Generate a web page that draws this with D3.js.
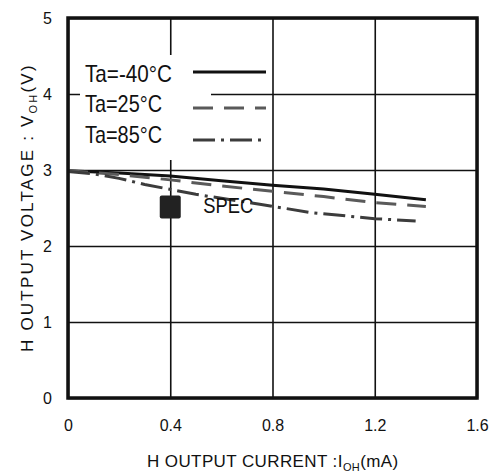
<!DOCTYPE html>
<html>
<head>
<meta charset="utf-8">
<script src="https://cdn.jsdelivr.net/npm/d3@7"></script>
<style>
    body { margin: 0; background: #fff; }
    text { font-family: "Liberation Sans", Arial, sans-serif; fill: #111; }
</style>
</head>
<body>
<div id="chart"></div>
<script>
// values
const currentTicks = [0, 0.4, 0.8, 1.2, 1.6];
const voltageTicks = [0, 1, 2, 3, 4, 5];
const currentTickLabels = ['0', '0.4', '0.8', '1.2', '1.6'];

const currentA = [0, 0.2, 0.4, 0.6, 0.8, 1.0, 1.2, 1.4];
const vohMinus40 = [2.99, 2.96, 2.92, 2.86, 2.80, 2.75, 2.68, 2.61];
const voh25 = [2.99, 2.94, 2.87, 2.79, 2.72, 2.65, 2.57, 2.52];
const currentB = [0, 0.1, 0.2, 0.3, 0.5, 0.75, 0.95, 1.2, 1.36];
const voh85 = [2.98, 2.95, 2.89, 2.81, 2.68, 2.55, 2.44, 2.36, 2.33];

const seriesLabels = ['Ta=-40°C', 'Ta=25°C', 'Ta=85°C'];
const specCurrent = [0.4];
const specVoltage = [2.52];

const margin = { top: 18, right: 15, bottom: 77, left: 68 };
const width = 492 - margin.left - margin.right;
const height = 475 - margin.top - margin.bottom;

const svg = d3.select('#chart').append('svg')
    .attr('width', 492)
    .attr('height', 475);

const chart = svg.append('g')
    .attr('transform', `translate(${margin.left}, ${margin.top})`);

const x = d3.scaleLinear().domain([0, 1.6]).range([0, width]);
const y = d3.scaleLinear().domain([0, 5]).range([height, 0]);

// grid
chart.append('g')
    .attr('transform', `translate(0, ${height})`)
    .call(d3.axisBottom(x).tickValues(currentTicks).tickSize(-height).tickFormat(''))
    .call(g => g.select('.domain').remove())
    .selectAll('line').attr('stroke', '#111').attr('stroke-width', 1.6);

chart.append('g')
    .call(d3.axisLeft(y).tickValues(voltageTicks).tickSize(-width).tickFormat(''))
    .call(g => g.select('.domain').remove())
    .selectAll('line').attr('stroke', '#111').attr('stroke-width', 1.6);

// white patch behind the legend text
chart.append('rect')
    .attr('x', 12).attr('y', 37)
    .attr('width', 131).attr('height', 105)
    .attr('fill', '#fff');

// tick labels
chart.append('g')
    .attr('transform', `translate(0, ${height})`)
    .call(d3.axisBottom(x).tickValues(currentTicks).tickSize(0).tickPadding(22)
        .tickFormat((d, i) => currentTickLabels[i]))
    .call(g => g.select('.domain').remove())
    .selectAll('text').attr('font-size', 16).attr('fill', '#111');

chart.append('g')
    .call(d3.axisLeft(y).tickValues(voltageTicks).tickSize(0).tickPadding(16)
        .tickFormat(d3.format('d')))
    .call(g => g.select('.domain').remove())
    .selectAll('text').attr('font-size', 16).attr('fill', '#111');

// curves
const series = [
    { xs: currentA, ys: vohMinus40, color: '#111', dash: null },
    { xs: currentA, ys: voh25, color: '#5a5a5a', dash: '20,11' },
    { xs: currentB, ys: voh85, color: '#3c3c3c', dash: '22,6,3,6' }
];

const line = d3.line()
    .x(d => x(d[0]))
    .y(d => y(d[1]));

chart.selectAll('.curve')
    .data(series)
    .join('path')
    .attr('class', 'curve')
    .attr('d', s => line(s.xs.map((v, i) => [v, s.ys[i]])))
    .attr('fill', 'none')
    .attr('stroke', s => s.color)
    .attr('stroke-width', 3)
    .attr('stroke-dasharray', s => s.dash);

// legend
const legend = chart.append('g').attr('transform', 'translate(17, 0)');
const legendRows = [64, 94, 125];
const legendLineY = [54, 90, 122];
const legendWidths = [87, 77, 77];

seriesLabels.forEach((label, i) => {
    legend.append('text')
        .attr('x', 0)
        .attr('y', legendRows[i])
        .attr('font-size', 24)
        .attr('textLength', legendWidths[i])
        .attr('lengthAdjust', 'spacingAndGlyphs')
        .text(label);
    legend.append('line')
        .attr('x1', 108).attr('x2', 181)
        .attr('y1', legendLineY[i]).attr('y2', legendLineY[i])
        .attr('stroke', series[i].color)
        .attr('stroke-width', 3)
        .attr('stroke-dasharray', series[i].dash);
});

// spec point
chart.selectAll('.spec')
    .data(specCurrent)
    .join('rect')
    .attr('class', 'spec')
    .attr('x', d => x(d) - 10.5)
    .attr('y', (d, i) => y(specVoltage[i]) - 11)
    .attr('width', 21)
    .attr('height', 23)
    .attr('rx', 2)
    .attr('fill', '#222');

chart.append('text')
    .attr('x', x(specCurrent[0]) + 33)
    .attr('y', y(specVoltage[0]) + 7)
    .attr('font-size', 22)
    .attr('textLength', 50)
    .attr('lengthAdjust', 'spacingAndGlyphs')
    .text('SPEC');

// frame
chart.append('rect')
    .attr('width', width).attr('height', height)
    .attr('fill', 'none')
    .attr('stroke', '#111')
    .attr('stroke-width', 3.5);

// axis titles
const xTitle = svg.append('text')
    .attr('x', 147)
    .attr('y', 467)
    .attr('font-size', 17)
    .attr('letter-spacing', 0.4);
xTitle.append('tspan').text('H OUTPUT CURRENT :I');
xTitle.append('tspan').attr('font-size', 11).attr('dy', 4).text('OH');
xTitle.append('tspan').attr('dy', -4).text('(mA)');

const yTitle = svg.append('text')
    .attr('transform', 'translate(33, 352) rotate(-90)')
    .attr('font-size', 17)
    .attr('letter-spacing', 2.2);
yTitle.append('tspan').text('H OUTPUT VOLTAGE : V');
yTitle.append('tspan').attr('font-size', 11).attr('dy', 4).text('OH');
yTitle.append('tspan').attr('dy', -4).text('(V)');
</script>
</body>
</html>
